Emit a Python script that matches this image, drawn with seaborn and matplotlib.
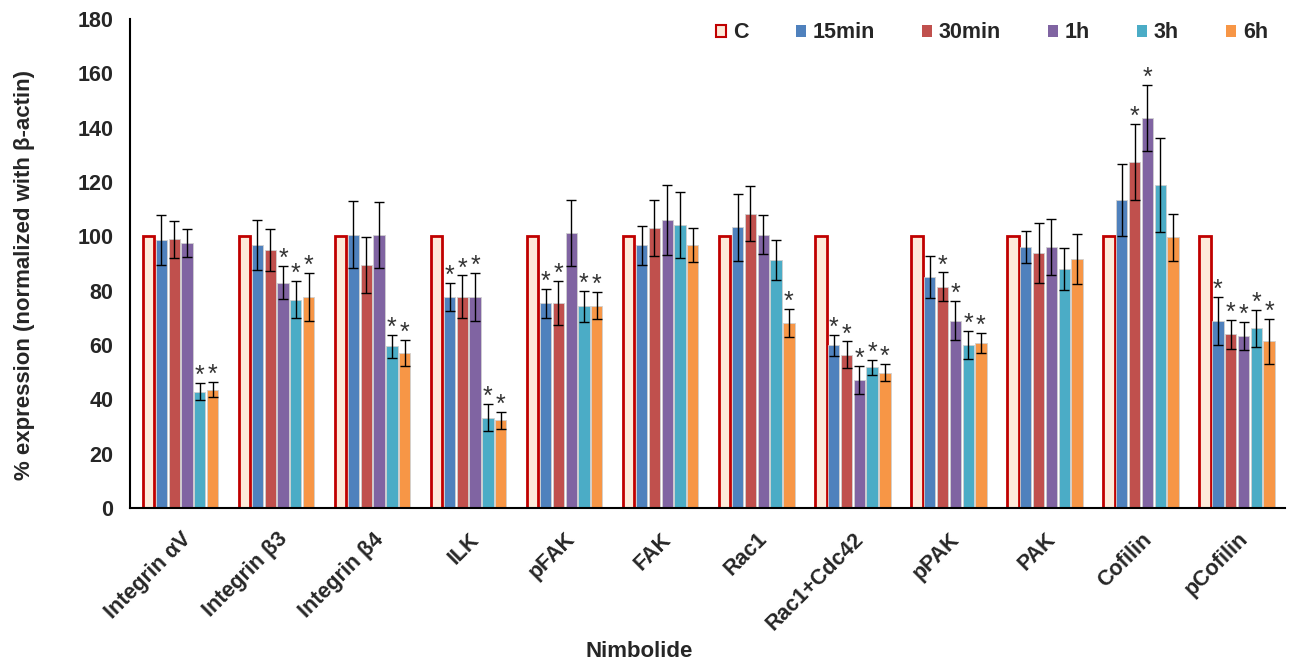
import matplotlib
matplotlib.use("Agg")
import numpy as np
import pandas as pd
import matplotlib.pyplot as plt
import seaborn as sns
from matplotlib.patches import Patch

# Proteins measured and treatment time points
proteins = ["Integrin αV", "Integrin β3", "Integrin β4", "ILK", "pFAK", "FAK",
            "Rac1", "Rac1+Cdc42", "pPAK", "PAK", "Cofilin", "pCofilin"]
timepoints = ["C", "15min", "30min", "1h", "3h", "6h"]

# Mean % expression (normalized with beta-actin)
val_c = [100, 100, 100, 100, 100, 100, 100, 100, 100, 100, 100, 100]
val_15min = [98.7, 96.9, 100.6, 77.7, 75.4, 96.7, 103.3, 59.9, 85.1, 96.2, 113.5, 68.9]
val_30min = [99.0, 95.0, 89.6, 77.7, 75.4, 102.9, 108.3, 56.4, 81.4, 93.9, 127.5, 64.0]
val_1h = [97.6, 83.0, 100.4, 77.7, 101.3, 106.0, 100.6, 47.2, 69.0, 96.2, 143.5, 63.4]
val_3h = [42.8, 76.7, 59.5, 33.3, 74.2, 104.3, 91.3, 51.8, 60.1, 88.0, 118.8, 66.1]
val_6h = [43.6, 77.7, 57.2, 32.3, 74.5, 96.9, 68.2, 49.8, 60.8, 91.7, 99.6, 61.3]

# Standard deviations
err_15min = [9.1, 9.2, 12.4, 5.2, 5.3, 7.1, 12.2, 3.8, 7.8, 5.9, 13.3, 8.9]
err_30min = [6.8, 7.8, 10.3, 7.9, 8.2, 10.3, 10.1, 4.9, 5.3, 10.9, 14.0, 5.3]
err_1h = [5.2, 6.0, 12.1, 8.8, 12.2, 12.8, 7.2, 5.1, 7.3, 10.3, 12.1, 5.1]
err_3h = [3.2, 6.9, 4.1, 5.1, 5.8, 12.2, 7.2, 2.8, 5.1, 7.8, 17.3, 6.8]
err_6h = [2.8, 8.8, 4.8, 3.2, 5.1, 6.3, 5.1, 3.2, 3.8, 9.1, 8.8, 8.3]

# Significance flags (1 = significant vs control)
sig_15min = [0, 0, 0, 1, 1, 0, 0, 1, 0, 0, 0, 1]
sig_30min = [0, 0, 0, 1, 1, 0, 0, 1, 1, 0, 1, 1]
sig_1h = [0, 1, 0, 1, 0, 0, 0, 1, 1, 0, 1, 1]
sig_3h = [1, 1, 1, 1, 1, 0, 0, 1, 1, 0, 0, 1]
sig_6h = [1, 1, 1, 1, 1, 0, 1, 1, 1, 0, 0, 1]

values = [val_c, val_15min, val_30min, val_1h, val_3h, val_6h]
errors = [None, err_15min, err_30min, err_1h, err_3h, err_6h]
signif = [None, sig_15min, sig_30min, sig_1h, sig_3h, sig_6h]

colors = ["#FDEADA", "#4F81BD", "#C0504D", "#8064A2", "#4BACC6", "#F79646"]
ctrl_edge = "#C00000"

df = pd.DataFrame({
    "protein": np.tile(proteins, len(timepoints)),
    "time": np.repeat(timepoints, len(proteins)),
    "value": np.concatenate(values),
})

sns.set_style("white")
plt.rcParams["font.family"] = ["Liberation Sans", "DejaVu Sans"]
plt.rcParams["font.weight"] = "bold"

fig = plt.figure(figsize=(12.89, 6.70), dpi=100)
ax = fig.add_axes([0.1009, 0.2418, 0.8961, 0.7298])

sns.barplot(data=df, x="protein", y="value", hue="time", order=proteins,
            hue_order=timepoints, palette=colors, width=0.8, gap=0.12,
            errorbar=None, legend=False, ax=ax, saturation=1)

bar_groups = list(ax.containers)
for k, cont in enumerate(bar_groups):
    patches = list(cont)
    xs = [p.get_x() + p.get_width() / 2 for p in patches]
    if k == 0:
        for p in patches:
            p.set_edgecolor(ctrl_edge)
            p.set_linewidth(2.0)
        continue
    for p in patches:
        p.set_edgecolor("#d0d0d0")
        p.set_linewidth(0.6)
    ax.errorbar(xs, values[k], yerr=errors[k], fmt="none", ecolor="black",
                elinewidth=1.0, capsize=3.3, capthick=1.0, zorder=3)
    for x, v, e, s in zip(xs, values[k], errors[k], signif[k]):
        if s:
            ax.annotate("*", (x, v + e), xytext=(0, 0), textcoords="offset points",
                        ha="center", va="baseline", fontsize=18,
                        fontweight="normal", color="#333333")

ax.set_ylim(0, 180)
ax.set_yticks(np.arange(0, 181, 20))
ax.set_xlim(-0.526, 11.5)

ax.tick_params(axis="both", length=0, labelsize=15.5)
ax.tick_params(axis="y", pad=12)
ax.tick_params(axis="x", pad=15)
for lab in ax.get_yticklabels():
    lab.set_fontweight("bold")
for lab in ax.get_xticklabels():
    lab.set_rotation(45)
    lab.set_ha("right")
    lab.set_rotation_mode("anchor")
    lab.set_fontweight("bold")

ax.set_xlabel("Nimbolide", fontsize=16, fontweight="bold")
ax.set_ylabel("% expression (normalized with β-actin)", fontsize=16,
              fontweight="bold")
ax.xaxis.set_label_coords(0.441, -0.272)
ax.yaxis.set_label_coords(-0.0823, 0.4765)

sns.despine(ax=ax)
for side in ("left", "bottom"):
    ax.spines[side].set_color("black")
    ax.spines[side].set_linewidth(1.5)

handles = [Patch(facecolor=colors[0], edgecolor=ctrl_edge, linewidth=1.5, label=timepoints[0])]
handles += [Patch(facecolor=c, edgecolor="none", label=t) for c, t in zip(colors[1:], timepoints[1:])]
ax.legend(handles=handles, loc="center right", bbox_to_anchor=(1268 / 1289, 1 - 33 / 670),
          bbox_transform=fig.transFigure, ncol=6, frameon=False, borderaxespad=0,
          borderpad=0, handlelength=0.47, handleheight=0.47, handletextpad=0.3,
          columnspacing=2.2, prop={"size": 15.5, "weight": "bold"})

fig.savefig("out.png", dpi=100)
